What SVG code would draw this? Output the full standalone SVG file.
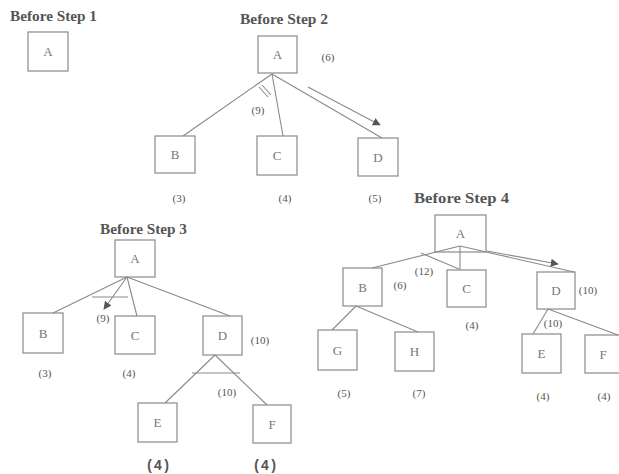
<svg xmlns="http://www.w3.org/2000/svg" width="619" height="474" viewBox="0 0 619 474">
<style>
.box{fill:none;stroke:#8a8a8a;stroke-width:1.2}
.nl{font-family:"Liberation Serif",serif;font-size:13px;fill:#777;text-anchor:middle}
.lb{font-family:"Liberation Serif",serif;font-size:11px;fill:#555;text-anchor:middle}
.bl{font-family:"Liberation Mono",monospace;font-size:14px;font-weight:bold;fill:#555;text-anchor:middle}
.tt{font-family:"Liberation Serif",serif;font-size:14px;font-weight:bold;fill:#555}
.ln{stroke:#8a8a8a;stroke-width:1.1;fill:none}
</style>
<defs>
<marker id="ah" viewBox="0 0 10 10" refX="9" refY="5" markerWidth="8" markerHeight="8" orient="auto" markerUnits="userSpaceOnUse">
<path d="M0,0 L10,5 L0,10 z" fill="#555"/>
</marker>
</defs>
<rect width="619" height="474" fill="#fff"/>
<g id="titles">
<text class="tt" x="10" y="21" textLength="87" lengthAdjust="spacingAndGlyphs">Before Step 1</text>
<text class="tt" x="240" y="24" textLength="88" lengthAdjust="spacingAndGlyphs">Before Step 2</text>
<text class="tt" x="100" y="234" textLength="87" lengthAdjust="spacingAndGlyphs">Before Step 3</text>
<text class="tt" x="414" y="203" textLength="95" lengthAdjust="spacingAndGlyphs">Before Step 4</text>
</g>
<g id="connectors">
<!-- step 2 -->
<line class="ln" x1="272" y1="74" x2="183" y2="136"/>
<line class="ln" x1="272" y1="74" x2="283" y2="136"/>
<line class="ln" x1="272" y1="74" x2="382" y2="138"/>
<line class="ln" x1="308" y1="87" x2="380" y2="125" marker-end="url(#ah)"/>
<line class="ln" x1="259" y1="87" x2="268" y2="97"/>
<line class="ln" x1="262" y1="85" x2="271" y2="95"/>
<!-- step 3 -->
<line class="ln" x1="127" y1="277" x2="53" y2="313"/>
<line class="ln" x1="127" y1="277" x2="137" y2="316"/>
<line class="ln" x1="127" y1="277" x2="230" y2="316"/>
<line class="ln" x1="127" y1="277" x2="104" y2="309" marker-end="url(#ah)"/>
<line class="ln" x1="92" y1="297" x2="128" y2="297"/>
<line class="ln" x1="215" y1="355" x2="165" y2="403"/>
<line class="ln" x1="215" y1="355" x2="267" y2="405"/>
<line class="ln" x1="192" y1="373" x2="240" y2="373"/>
<!-- step 4 -->
<line class="ln" x1="460" y1="246" x2="372" y2="268"/>
<line class="ln" x1="460" y1="246" x2="460" y2="270"/>
<line class="ln" x1="421" y1="253" x2="459" y2="269"/>
<line class="ln" x1="460" y1="246" x2="574" y2="272"/>
<line class="ln" x1="487" y1="251" x2="558" y2="264" marker-end="url(#ah)"/>
<line class="ln" x1="356" y1="306" x2="332" y2="330"/>
<line class="ln" x1="356" y1="306" x2="418" y2="332"/>
<line class="ln" x1="548" y1="309" x2="533" y2="334"/>
<line class="ln" x1="548" y1="309" x2="618" y2="335"/>
</g>
<g id="s1A"><rect class="box" x="28" y="32" width="40" height="39"/><text class="nl" x="48" y="56">A</text></g>
<g id="s2A"><rect class="box" x="258" y="36" width="39" height="37"/><text class="nl" x="277.5" y="59">A</text></g>
<g id="s2B"><rect class="box" x="155" y="136" width="40" height="37"/><text class="nl" x="175" y="159">B</text></g>
<g id="s2C"><rect class="box" x="257" y="136" width="40" height="39"/><text class="nl" x="277" y="160">C</text></g>
<g id="s2D"><rect class="box" x="358" y="138" width="40" height="38"/><text class="nl" x="378" y="162">D</text></g>
<g id="s3A"><rect class="box" x="115" y="240" width="40" height="37"/><text class="nl" x="135" y="263">A</text></g>
<g id="s3B"><rect class="box" x="23" y="313" width="40" height="40"/><text class="nl" x="43" y="338">B</text></g>
<g id="s3C"><rect class="box" x="115" y="316" width="40" height="38"/><text class="nl" x="135" y="340">C</text></g>
<g id="s3D"><rect class="box" x="203" y="316" width="39" height="39"/><text class="nl" x="222.5" y="340">D</text></g>
<g id="s3E"><rect class="box" x="138" y="403" width="39" height="39"/><text class="nl" x="157.5" y="427">E</text></g>
<g id="s3F"><rect class="box" x="253" y="405" width="38" height="38"/><text class="nl" x="272" y="429">F</text></g>
<g id="s4A"><rect class="box" x="435" y="215" width="51" height="37"/><text class="nl" x="460.5" y="238">A</text></g>
<g id="s4B"><rect class="box" x="343" y="268" width="39" height="38"/><text class="nl" x="362.5" y="292">B</text></g>
<g id="s4C"><rect class="box" x="447" y="270" width="39" height="37"/><text class="nl" x="466.5" y="293">C</text></g>
<g id="s4D"><rect class="box" x="537" y="272" width="38" height="37"/><text class="nl" x="556" y="295">D</text></g>
<g id="s4G"><rect class="box" x="318" y="330" width="39" height="40"/><text class="nl" x="337.5" y="355">G</text></g>
<g id="s4H"><rect class="box" x="395" y="332" width="39" height="39"/><text class="nl" x="414.5" y="356">H</text></g>
<g id="s4E"><rect class="box" x="522" y="334" width="39" height="39"/><text class="nl" x="541.5" y="358">E</text></g>
<g id="s4F"><rect class="box" x="585" y="335" width="40" height="38"/><text class="nl" x="603" y="359">F</text></g>
<g id="labels">
<text class="lb" x="328" y="61">(6)</text>
<text class="lb" x="258" y="114">(9)</text>
<text class="lb" x="179" y="202">(3)</text>
<text class="lb" x="285" y="202">(4)</text>
<text class="lb" x="375" y="202">(5)</text>
<text class="lb" x="103" y="322">(9)</text>
<text class="lb" x="260" y="344">(10)</text>
<text class="lb" x="45" y="377">(3)</text>
<text class="lb" x="129" y="377">(4)</text>
<text class="lb" x="227" y="396">(10)</text>
<text class="bl" x="158" y="470">(4)</text>
<text class="bl" x="265" y="470">(4)</text>
<text class="lb" x="424" y="275">(12)</text>
<text class="lb" x="400" y="289">(6)</text>
<text class="lb" x="472" y="329">(4)</text>
<text class="lb" x="588" y="294">(10)</text>
<text class="lb" x="553" y="327">(10)</text>
<text class="lb" x="344" y="397">(5)</text>
<text class="lb" x="419" y="397">(7)</text>
<text class="lb" x="543" y="400">(4)</text>
<text class="lb" x="604" y="400">(4)</text>
</g>
</svg>
